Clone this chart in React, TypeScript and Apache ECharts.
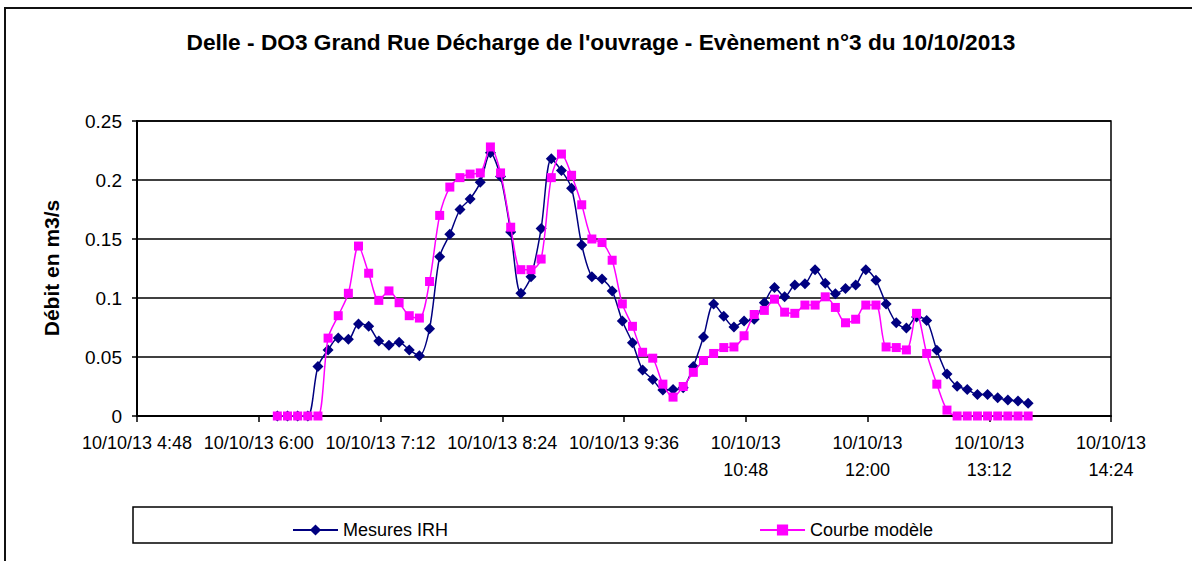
import React, { useEffect, useRef } from "react";
import * as echarts from "echarts";

const TITLE = "Delle - DO3 Grand Rue Décharge de l'ouvrage - Evènement n°3 du 10/10/2013";
const Y_NAME = "Débit en m3/s";
const DATE_PREFIX = "10/10/13";
const SERIES_NAMES = ["Mesures IRH", "Courbe modèle"];

const times = [
  "6:11", "6:17", "6:23", "6:29", "6:35", "6:41", "6:47", "6:53", "6:59",
  "7:05", "7:11", "7:17", "7:23", "7:29", "7:35", "7:41", "7:47", "7:53", "7:59",
  "8:05", "8:11", "8:17", "8:23", "8:29", "8:35", "8:41", "8:47", "8:53", "8:59",
  "9:05", "9:11", "9:17", "9:23", "9:29", "9:35", "9:41", "9:47", "9:53", "9:59",
  "10:05", "10:11", "10:17", "10:23", "10:29", "10:35", "10:41", "10:47", "10:53", "10:59",
  "11:05", "11:11", "11:17", "11:23", "11:29", "11:35", "11:41", "11:47", "11:53", "11:59",
  "12:05", "12:11", "12:17", "12:23", "12:29", "12:35", "12:41", "12:47", "12:53", "12:59",
  "13:05", "13:11", "13:17", "13:23", "13:29", "13:35",
];

const mesuresIRH = [
  0, 0, 0, 0, 0.042, 0.056, 0.066, 0.065, 0.078, 0.076,
  0.0636, 0.06, 0.0625, 0.056, 0.051, 0.074, 0.135, 0.154, 0.175, 0.184,
  0.198, 0.223, 0.203, 0.156, 0.104, 0.118, 0.159, 0.218, 0.208, 0.193,
  0.145, 0.118, 0.116, 0.106, 0.0805, 0.062, 0.039, 0.031, 0.022, 0.0225,
  0.024, 0.042, 0.067, 0.095, 0.0845, 0.0755, 0.0805, 0.082, 0.096, 0.109,
  0.101, 0.111, 0.112, 0.124, 0.1126, 0.1036, 0.108, 0.111, 0.124, 0.115,
  0.095, 0.079, 0.0746, 0.084, 0.081, 0.0557, 0.0355, 0.0253, 0.0225, 0.0183,
  0.0183, 0.0155, 0.0135, 0.0127, 0.0107,
];

const courbeModele = [
  0, 0, 0, 0, 0, 0.066, 0.085, 0.104, 0.144, 0.121,
  0.098, 0.106, 0.096, 0.085, 0.083, 0.114, 0.17, 0.194, 0.202, 0.205,
  0.206, 0.228, 0.206, 0.16, 0.124, 0.124, 0.133, 0.202, 0.222, 0.204,
  0.179, 0.15, 0.147, 0.132, 0.095, 0.076, 0.054, 0.049, 0.027, 0.016,
  0.025, 0.037, 0.047, 0.053, 0.058, 0.0585, 0.068, 0.086, 0.0895, 0.099,
  0.088, 0.087, 0.094, 0.094, 0.101, 0.092, 0.079, 0.082, 0.094, 0.094,
  0.0585, 0.058, 0.056, 0.087, 0.053, 0.027, 0.005, 0, 0, 0,
  0, 0, 0, 0, 0,
];

// x axis in minutes since midnight: 4:48 .. 14:24, step 1:12
const X_MIN = 288;
const X_MAX = 864;
const X_STEP = 72;
const Y_MAX = 0.25;
const Y_STEP = 0.05;

const FONT = "'Liberation Sans', Arial, sans-serif";

function toMin(t: string): number {
  const [h, m] = t.split(":").map(Number);
  return h * 60 + m;
}

function fmtTime(v: number): string {
  const h = Math.floor(v / 60);
  const m = Math.round(v - h * 60);
  const s = h + ":" + (m < 10 ? "0" + m : String(m));
  return h >= 10 ? DATE_PREFIX + "\n" + s : DATE_PREFIX + " " + s;
}

export default function App() {
  const ref = useRef<HTMLDivElement>(null);

  useEffect(() => {
    if (!ref.current) return;
    const chart = echarts.init(ref.current, null, { renderer: "svg" });
    const xs = times.map(toMin);
    const navy = xs.map((x, i) => [x, mesuresIRH[i]]);
    const pink = xs.map((x, i) => [x, courbeModele[i]]);

    chart.setOption({
      animation: false,
      backgroundColor: "#ffffff",
      textStyle: { fontFamily: FONT },
      grid: {
        left: 137,
        right: 81,
        top: 121,
        bottom: 145,
        show: true,
        borderColor: "#000",
        borderWidth: 1.5,
        backgroundColor: "transparent",
      },
      xAxis: {
        type: "value",
        min: X_MIN,
        max: X_MAX,
        interval: X_STEP,
        axisLine: { show: true, lineStyle: { color: "#000", width: 2 } },
        axisTick: { show: true, length: 6, lineStyle: { color: "#000", width: 1.5 } },
        splitLine: { show: false },
        axisLabel: {
          formatter: (v: number) => fmtTime(v),
          color: "#000",
          fontSize: 18,
          fontFamily: FONT,
          margin: 13,
          lineHeight: 27,
          showMinLabel: true,
          showMaxLabel: true,
        },
      },
      yAxis: {
        type: "value",
        min: 0,
        max: Y_MAX,
        interval: Y_STEP,
        axisLine: { show: true, lineStyle: { color: "#000", width: 2 } },
        axisTick: { show: true, length: 5, lineStyle: { color: "#000", width: 1.5 } },
        splitLine: { show: true, lineStyle: { color: "#000", width: 1.5 } },
        axisLabel: {
          color: "#000",
          fontSize: 19,
          fontFamily: FONT,
          margin: 15,
        },
      },
      legend: {
        left: 287,
        top: 516,
        itemWidth: 45,
        itemHeight: 14,
        itemGap: 311,
        textStyle: { color: "#000", fontSize: 18, fontFamily: FONT },
        data: SERIES_NAMES,
      },
      series: [
        {
          name: SERIES_NAMES[0],
          type: "line",
          data: navy,
          smooth: 0.3,
          symbol: "diamond",
          symbolSize: 11,
          color: "#000080",
          itemStyle: { color: "#000080" },
          lineStyle: { color: "#000080", width: 1.5 },
          z: 3,
        },
        {
          name: SERIES_NAMES[1],
          type: "line",
          data: pink,
          smooth: 0.3,
          symbol: "rect",
          symbolSize: 9,
          color: "#FF00FF",
          itemStyle: { color: "#FF00FF" },
          lineStyle: { color: "#FF00FF", width: 1.5 },
          z: 4,
        },
      ],
      graphic: [
        {
          type: "rect",
          shape: { x: 5, y: 8, width: 1250, height: 620 },
          style: { fill: "none", stroke: "#111", lineWidth: 2 },
          z: -1,
          silent: true,
        },
        {
          type: "rect",
          shape: { x: 133, y: 507, width: 979, height: 36 },
          style: { fill: "none", stroke: "#000", lineWidth: 1.5 },
          z: -1,
          silent: true,
        },
        {
          type: "text",
          x: 601,
          y: 42,
          style: {
            text: TITLE,
            fontSize: 22.7,
            fontWeight: "bold",
            fontFamily: FONT,
            fill: "#000",
            align: "center",
            verticalAlign: "middle",
          },
        },
        {
          type: "text",
          x: 51,
          y: 268,
          rotation: Math.PI / 2,
          style: {
            text: Y_NAME,
            fontSize: 21,
            fontWeight: "bold",
            fontFamily: FONT,
            fill: "#000",
            align: "center",
            verticalAlign: "middle",
          },
        },
      ],
    });

    return () => chart.dispose();
  }, []);

  return (
    <div
      ref={ref}
      style={{ position: "fixed", left: 0, top: 0, width: 1192, height: 561, background: "#fff" }}
    />
  );
}
